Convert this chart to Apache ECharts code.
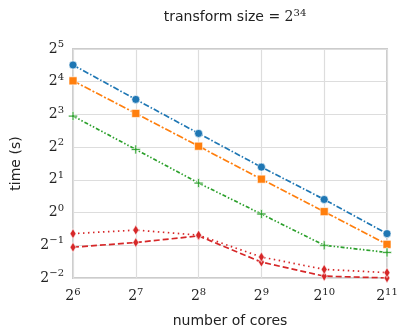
<!DOCTYPE html>
<html>
<head>
<meta charset="utf-8">
<script src="https://cdn.jsdelivr.net/npm/echarts@6/dist/echarts.min.js"></script>
<style>
  html, body { margin: 0; padding: 0; background: #fff; }
  #chart { width: 398px; height: 329px; }
</style>
</head>
<body>
<div id="chart"></div>
<script>
    // number of cores
    let cores = [64, 128, 256, 512, 1024, 2048];

    // time (s)
    let blueTimes = [22.8, 11.0, 5.35, 2.62, 1.32, 0.64];
    let orangeTimes = [16.3, 8.17, 4.08, 2.03, 1.02, 0.51];
    let greenTimes = [7.73, 3.81, 1.87, 0.97, 0.50, 0.43];
    let redDashedTimes = [0.48, 0.53, 0.61, 0.35, 0.26, 0.25];
    let redDottedTimes = [0.64, 0.69, 0.62, 0.39, 0.30, 0.28];

    let serif = "'DejaVu Serif', 'Liberation Serif', serif";
    let sans = "'DejaVu Sans', 'Noto Sans', sans-serif";

    let plusPath = 'path://M4,0H6V4H10V6H6V10H4V6H0V4H4Z';

    function pairs(ys) {
        let out = [];
        for (let i = 0; i < cores.length; i++) {
            out.push([cores[i], ys[i]]);
        }
        return out;
    }

    function powLabel(v) {
        let n = Math.round(Math.log2(v));
        let s = n < 0 ? '\u2212' + (-n) : '' + n;
        return '{b|2}{e|' + s + '}';
    }

    let labelRich = {
        b: {fontFamily: serif, fontSize: 14, color: '#222'},
        e: {fontFamily: serif, fontSize: 10, color: '#222', padding: [0, 0, 9, 0]}
    };

    function makeSeries(data, color, dash, symbol, size) {
        return {
            type: 'line',
            data: pairs(data),
            symbol: symbol,
            symbolSize: size,
            lineStyle: {color: color, width: 1.7, type: dash},
            itemStyle: {color: color, borderColor: 'rgba(255,255,255,0.6)', borderWidth: 1},
            z: 3
        };
    }

    let chart = echarts.init(document.getElementById('chart'));

    let option = {
        animation: false,
        backgroundColor: '#fff',
        title: {
            text: '{t|transform size }{m|= 2}{s|34}',
            left: 230,
            top: 3,
            textAlign: 'center',
            textStyle: {
                fontWeight: 'normal',
                rich: {
                    t: {fontFamily: sans, fontSize: 14, fontWeight: 'normal', color: '#222'},
                    m: {fontFamily: serif, fontSize: 14, fontWeight: 'normal', color: '#222'},
                    s: {fontFamily: serif, fontSize: 10, fontWeight: 'normal', color: '#222', padding: [0, 0, 9, 0]}
                }
            }
        },
        grid: {
            left: 73,
            right: 11,
            top: 49,
            bottom: 51,
            containLabel: false,
            outerBoundsMode: 'none',
            show: true,
            borderColor: '#cccccc',
            borderWidth: 2
        },
        xAxis: {
            type: 'log',
            logBase: 2,
            min: 64,
            max: 2048,
            splitNumber: 5,
            name: 'number of cores',
            nameLocation: 'middle',
            nameGap: 36,
            nameTextStyle: {fontFamily: sans, fontSize: 14, color: '#222'},
            axisLine: {show: false},
            axisTick: {show: false},
            axisLabel: {margin: 9, formatter: powLabel, rich: labelRich},
            splitLine: {show: true, lineStyle: {color: '#dddddd', width: 1.2}},
            minorTick: {show: false}
        },
        yAxis: {
            type: 'log',
            logBase: 2,
            min: 0.25,
            max: 32,
            splitNumber: 7,
            name: 'time (s)',
            nameLocation: 'middle',
            nameGap: 50,
            nameTextStyle: {fontFamily: sans, fontSize: 14, color: '#222'},
            axisLine: {show: false},
            axisTick: {show: false},
            axisLabel: {margin: 9, formatter: powLabel, rich: labelRich},
            splitLine: {show: true, lineStyle: {color: '#dddddd', width: 1.2}}
        },
        series: [
            makeSeries(blueTimes, '#1f77b4', [6, 2, 1.5, 2], 'circle', 8),
            makeSeries(orangeTimes, '#ff7f0e', [7, 2, 2, 2], 'rect', 8),
            makeSeries(greenTimes, '#2ca02c', [4, 2, 1.5, 2, 1.5, 2], plusPath, 9),
            makeSeries(redDashedTimes, '#d62728', [6, 3], 'diamond', [6, 10]),
            makeSeries(redDottedTimes, '#d62728', [1.5, 3.5], 'diamond', [6, 10])
        ]
    };

    chart.setOption(option);
</script>
</body>
</html>
